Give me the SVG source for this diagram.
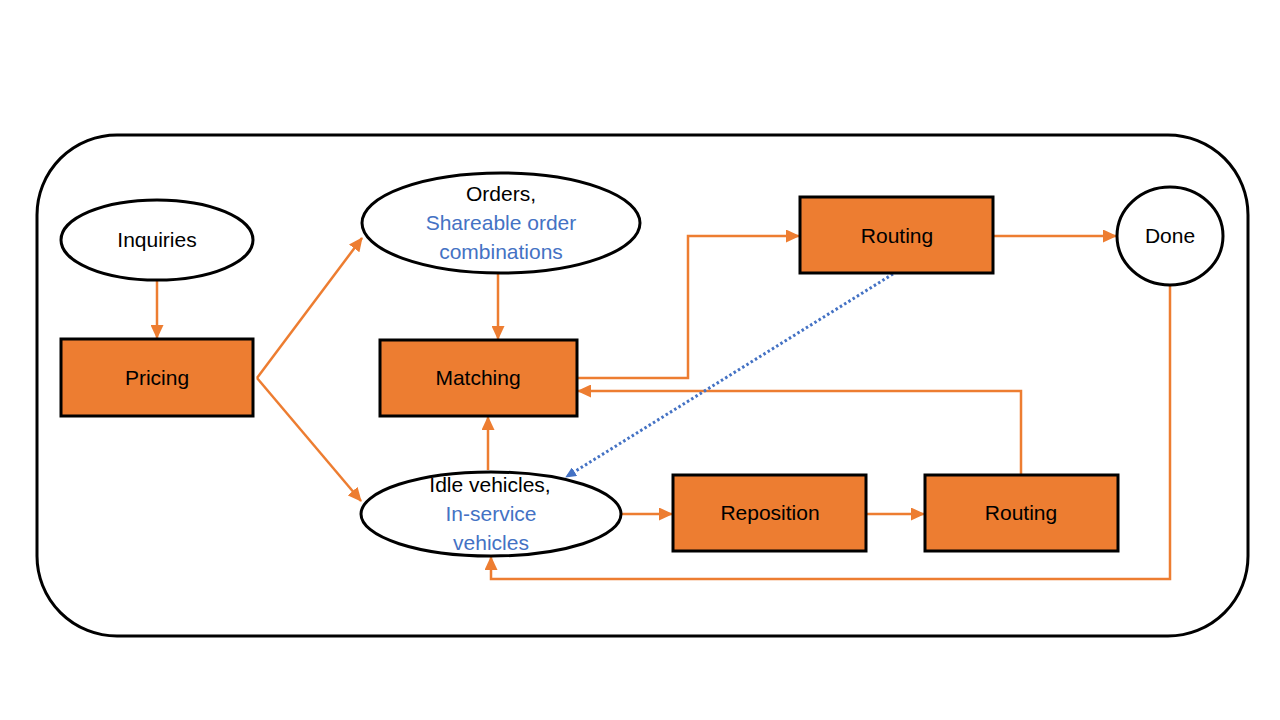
<svg xmlns="http://www.w3.org/2000/svg" width="1280" height="720" viewBox="0 0 1280 720">
<style>
.box{fill:#ED7D31;stroke:#000;stroke-width:3}
.ell{fill:#fff;stroke:#000;stroke-width:3}
.t{font-family:"Liberation Sans",Arial,sans-serif;font-size:21px;fill:#000;text-anchor:middle}
.b{fill:#4472C4}
.c{fill:none;stroke:#ED7D31;stroke-width:2.5}
.d{fill:none;stroke:#4472C4;stroke-width:3;stroke-dasharray:2.5 2.5}
</style>
<defs>
<marker id="ao" markerWidth="14" markerHeight="13" refX="13" refY="6.5" orient="auto" markerUnits="userSpaceOnUse"><path d="M0,0 L14,6.5 L0,13 z" fill="#ED7D31"/></marker>
<marker id="ab" markerWidth="11" markerHeight="10" refX="10" refY="5" orient="auto" markerUnits="userSpaceOnUse"><path d="M0,0 L11,5 L0,10 z" fill="#4472C4"/></marker>
</defs>
<rect width="1280" height="720" fill="#fff"/>
<rect x="37" y="135" width="1211" height="501" rx="80" ry="80" fill="none" stroke="#000" stroke-width="3"/>
<g id="connectors">
<path class="c" d="M157,280 L157,338" marker-end="url(#ao)"/>
<path class="c" d="M257,378 L362,238" marker-end="url(#ao)"/>
<path class="c" d="M257,378 L361,501" marker-end="url(#ao)"/>
<path class="c" d="M498,274 L498,339" marker-end="url(#ao)"/>
<path class="c" d="M488,470 L488,417" marker-end="url(#ao)"/>
<path class="c" d="M577,378 L688,378 L688,236 L799,236" marker-end="url(#ao)"/>
<path class="c" d="M993,236 L1116,236" marker-end="url(#ao)"/>
<path class="c" d="M1021,475 L1021,391 L578,391" marker-end="url(#ao)"/>
<path class="c" d="M1170,285 L1170,579 L491,579 L491,557" marker-end="url(#ao)"/>
<path class="c" d="M622,514 L672,514" marker-end="url(#ao)"/>
<path class="c" d="M866,514 L924,514" marker-end="url(#ao)"/>
<path class="d" d="M893,274 L566,477" marker-end="url(#ab)"/>
</g>
<g id="inquiries"><ellipse class="ell" cx="157" cy="240" rx="96" ry="40"/><text class="t" x="157" y="247">Inquiries</text></g>
<g id="pricing"><rect class="box" x="61" y="339" width="192" height="77"/><text class="t" x="157" y="385">Pricing</text></g>
<g id="orders"><ellipse class="ell" cx="501" cy="223" rx="139" ry="50"/><text class="t" x="501" y="201">Orders,</text><text class="t b" x="501" y="230">Shareable order</text><text class="t b" x="501" y="259">combinations</text></g>
<g id="matching"><rect class="box" x="380" y="340" width="197" height="76"/><text class="t" x="478" y="385">Matching</text></g>
<g id="idle"><ellipse class="ell" cx="491" cy="514" rx="130" ry="42"/><text class="t" x="490" y="492">Idle vehicles,</text><text class="t b" x="491" y="521">In-service</text><text class="t b" x="491" y="550">vehicles</text></g>
<g id="routing1"><rect class="box" x="800" y="197" width="193" height="76"/><text class="t" x="897" y="243">Routing</text></g>
<g id="done"><ellipse class="ell" cx="1170" cy="236" rx="53" ry="49"/><text class="t" x="1170" y="243">Done</text></g>
<g id="reposition"><rect class="box" x="673" y="475" width="193" height="76"/><text class="t" x="770" y="520">Reposition</text></g>
<g id="routing2"><rect class="box" x="925" y="475" width="193" height="76"/><text class="t" x="1021" y="520">Routing</text></g>
</svg>
